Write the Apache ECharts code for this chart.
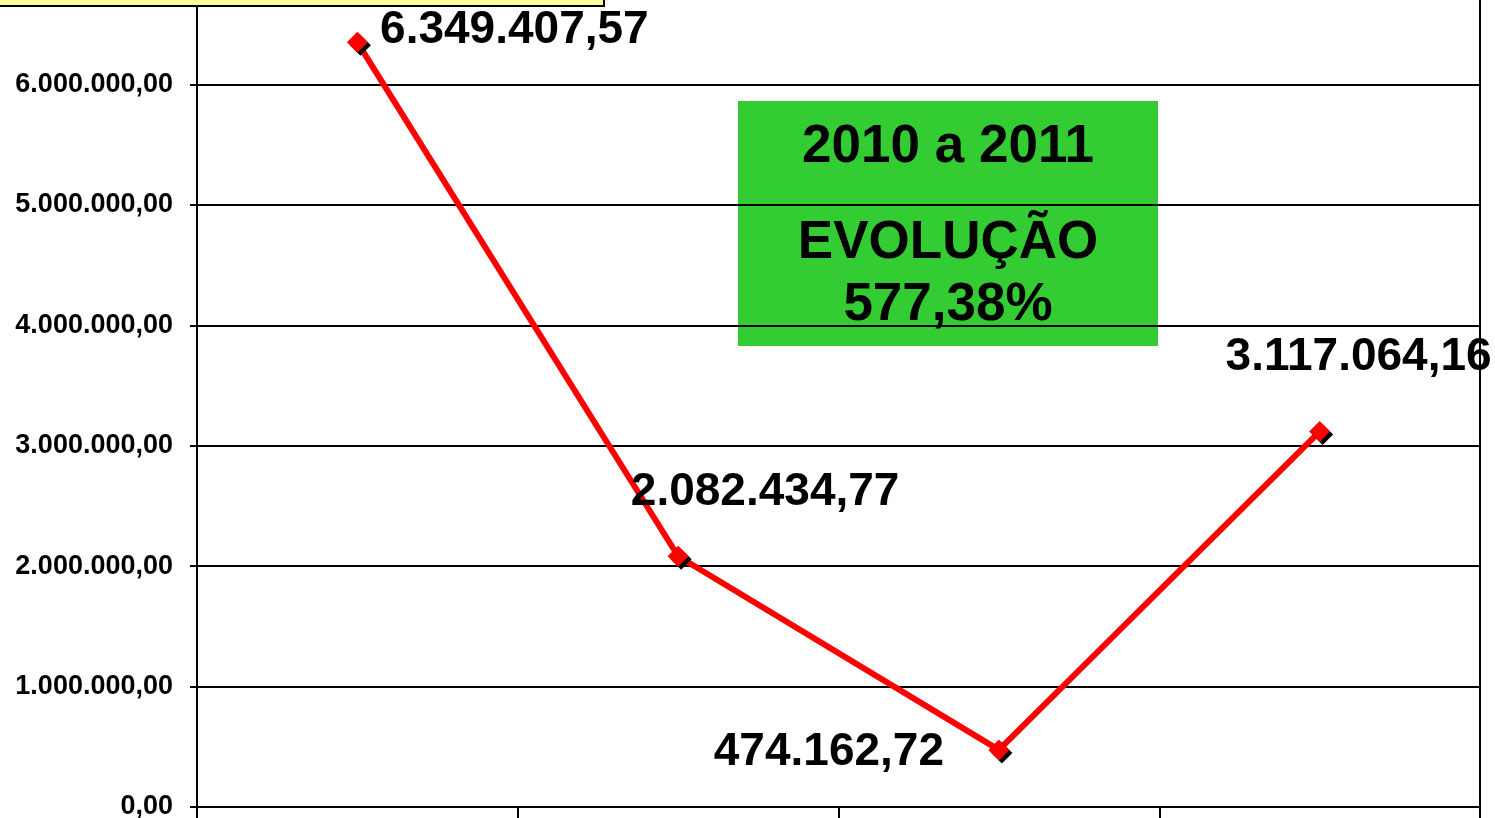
<!DOCTYPE html>
<html lang="pt">

<head>
	<meta charset="UTF-8">
	<title>Evolução</title>
	<style>
		html, body { margin: 0; padding: 0; background: #fff; }
	</style>
</head>

<body>
	<div id="main" style="width: 1495px;height:818px;"></div>
	<script src="https://cdn.jsdelivr.net/npm/echarts@6/dist/echarts.min.js"></script>
	<script>
		// dados
		var categorias = ['2008', '2009', '2010', '2011'];
		var valores = [6349407.57, 2082434.77, 474162.72, 3117064.16];
		var rotulos = ['6.349.407,57', '2.082.434,77', '474.162,72', '3.117.064,16'];
		var eixoMin = 0;
		var eixoMax = 7000000;
		var eixoPasso = 1000000;

		// deslocamento de cada rótulo (movidos à mão no original)
		var deslocRotulo = [[157, -12], [87, -64], [-170, 2], [39, -74]];

		function formataBR(v) {
			var s = Math.round(v).toString();
			s = s.replace(/\B(?=(\d{3})+(?!\d))/g, '.');
			return s + ',00';
		}

		var fonte = '"Liberation Sans", Arial, sans-serif';

		var pontos = valores.map(function (v, i) {
			return {
				value: v,
				label: {
					show: true,
					position: 'inside',
					offset: deslocRotulo[i],
					formatter: rotulos[i]
				}
			};
		});

		var myChart = echarts.init(document.getElementById('main'));
		var option = {
			animation: false,
			backgroundColor: '#fff',
			grid: {
				left: 197,
				right: 15,
				top: -36,
				bottom: 11,
				outerBoundsMode: 'none',
				containLabel: false,
				show: true,
				borderColor: '#000',
				borderWidth: 2
			},
			xAxis: {
				type: 'category',
				data: categorias,
				boundaryGap: true,
				axisLine: { lineStyle: { color: '#000', width: 2 } },
				axisTick: { show: true, length: 12, alignWithLabel: false, lineStyle: { color: '#000', width: 2 } },
				axisLabel: { show: false },
				splitLine: { show: false }
			},
			yAxis: {
				type: 'value',
				min: eixoMin,
				max: eixoMax,
				interval: eixoPasso,
				axisLine: { show: true, lineStyle: { color: '#000', width: 2 } },
				axisTick: { show: true, length: 7, lineStyle: { color: '#000', width: 2 } },
				axisLabel: {
					margin: 24,
					color: '#000',
					fontFamily: fonte,
					fontWeight: 'bold',
					fontSize: 27,
					formatter: formataBR
				},
				splitLine: { show: true, lineStyle: { color: '#000', width: 2 } }
			},
			series: [{
				type: 'line',
				data: pontos,
				symbol: 'diamond',
				symbolSize: 21,
				lineStyle: { color: '#ff0000', width: 6 },
				itemStyle: {
					color: '#ff0000',
					shadowColor: '#000',
					shadowBlur: 0,
					shadowOffsetX: 3,
					shadowOffsetY: 3
				},
				label: {
					color: '#000',
					fontFamily: fonte,
					fontWeight: 'bold',
					fontSize: 46
				},
				clip: false,
				z: 3
			}],
			graphic: [
				{
					type: 'rect',
					left: -3,
					top: -49,
					shape: { width: 606, height: 54 },
					style: { fill: '#ffff99', stroke: '#000', lineWidth: 2 },
					z: 10
				},
				{
					type: 'group',
					left: 738,
					top: 101,
					z: 10,
					children: [
						{
							type: 'rect',
							shape: { x: 0, y: 0, width: 420, height: 245 },
							style: { fill: '#33cc33' }
						},
						{
							type: 'text',
							x: 210, y: 46,
							style: { text: '2010 a 2011', fill: '#000', font: 'bold 53px ' + fonte, align: 'center', verticalAlign: 'middle' }
						},
						{
							type: 'text',
							x: 210, y: 142,
							style: { text: 'EVOLUÇÃO', fill: '#000', font: 'bold 53px ' + fonte, align: 'center', verticalAlign: 'middle' }
						},
						{
							type: 'text',
							x: 210, y: 204,
							style: { text: '577,38%', fill: '#000', font: 'bold 53px ' + fonte, align: 'center', verticalAlign: 'middle' }
						}
					]
				}
			]
		};
		myChart.setOption(option);
	</script>
</body>

</html>
